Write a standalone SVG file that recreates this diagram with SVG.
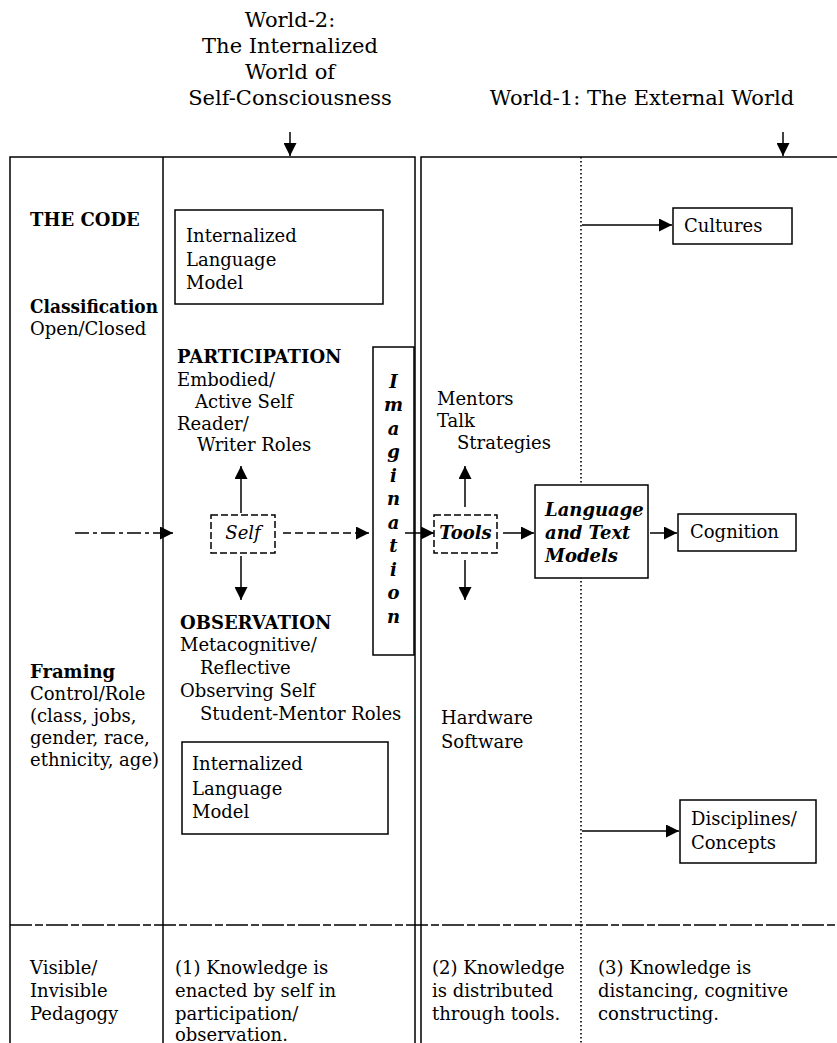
<svg xmlns="http://www.w3.org/2000/svg" width="837" height="1043" viewBox="0 0 837 1043">
<style>
.t{font-family:"DejaVu Serif","Liberation Serif",serif;font-size:18px;fill:#000}
.h{font-size:21px;text-anchor:middle}
.b{font-weight:bold}
.i{font-style:italic}
.m{text-anchor:middle}
.box{fill:#fff;stroke:#000;stroke-width:1.5}
.dbox{fill:#fff;stroke:#000;stroke-width:1.5;stroke-dasharray:7 3}
.ln{stroke:#000;stroke-width:1.5;fill:none}
.dot{stroke:#000;stroke-width:1.6;fill:none;stroke-dasharray:1.5 2.5}
.arr{stroke:#000;stroke-width:1.5;fill:none;marker-end:url(#ah)}
</style>
<defs>
<marker id="ah" viewBox="0 0 10 10" refX="10" refY="5" markerWidth="14" markerHeight="13" markerUnits="userSpaceOnUse" orient="auto"><path d="M0,0 L10,5 L0,10 z" fill="#000"/></marker>
</defs>
<rect width="837" height="1043" fill="#fff"/>

<g id="headers">
<text class="t h" x="290" y="27">World-2:</text>
<text class="t h" x="290" y="53">The Internalized</text>
<text class="t h" x="290" y="79">World of</text>
<text class="t h" x="290" y="105">Self-Consciousness</text>
<text class="t h" x="642" y="105">World-1: The External World</text>
</g>

<g id="frame">
<path class="ln" d="M10,1043 V157 H415 V1043"/>
<line class="ln" x1="163" y1="157" x2="163" y2="1043"/>
<path class="ln" d="M421,1043 V157 H837"/>
<line class="dot" x1="581" y1="157" x2="581" y2="1043"/>
<line class="ln" x1="10" y1="925" x2="837" y2="925" stroke-dasharray="22 3 8 3"/>
</g>

<g id="code-column">
<text class="t b" x="30" y="226">THE CODE</text>
<text class="t b" x="30" y="313" textLength="128" lengthAdjust="spacingAndGlyphs">Classification</text>
<text class="t" x="30" y="335">Open/Closed</text>
<text class="t b" x="30" y="678">Framing</text>
<text class="t" x="30" y="700">Control/Role</text>
<text class="t" x="30" y="722">(class, jobs,</text>
<text class="t" x="30" y="744">gender, race,</text>
<text class="t" x="30" y="766">ethnicity, age)</text>
<text class="t" x="30" y="974">Visible/</text>
<text class="t" x="30" y="997">Invisible</text>
<text class="t" x="30" y="1020">Pedagogy</text>
</g>

<g id="language-model-top">
<rect class="box" x="175" y="210" width="208" height="94"/>
<text class="t" x="186" y="242">Internalized</text>
<text class="t" x="186" y="266">Language</text>
<text class="t" x="186" y="289">Model</text>
</g>

<g id="participation">
<text class="t b" x="177" y="363">PARTICIPATION</text>
<text class="t" x="177" y="386">Embodied/</text>
<text class="t" x="195" y="408">Active Self</text>
<text class="t" x="177" y="430">Reader/</text>
<text class="t" x="197" y="451">Writer Roles</text>
</g>

<g id="self">
<rect class="dbox" x="211" y="515" width="64" height="38"/>
<text class="t i m" x="243" y="539">Self</text>
</g>

<g id="observation">
<text class="t b" x="180" y="629">OBSERVATION</text>
<text class="t" x="180" y="651">Metacognitive/</text>
<text class="t" x="200" y="674">Reflective</text>
<text class="t" x="180" y="697">Observing Self</text>
<text class="t" x="200" y="720">Student-Mentor Roles</text>
</g>

<g id="language-model-bottom">
<rect class="box" x="182" y="742" width="206" height="92"/>
<text class="t" x="192" y="770">Internalized</text>
<text class="t" x="192" y="795">Language</text>
<text class="t" x="192" y="818">Model</text>
</g>

<g id="imagination">
<rect class="box" x="373" y="347" width="41" height="308"/>
<g class="t b i m">
<text x="393.5" y="388">I</text>
<text x="393.5" y="411">m</text>
<text x="393.5" y="435">a</text>
<text x="393.5" y="458">g</text>
<text x="393.5" y="482">i</text>
<text x="393.5" y="505">n</text>
<text x="393.5" y="529">a</text>
<text x="393.5" y="552">t</text>
<text x="393.5" y="576">i</text>
<text x="393.5" y="599">o</text>
<text x="393.5" y="623">n</text>
</g>
</g>

<g id="tool-labels">
<text class="t" x="437" y="405">Mentors</text>
<text class="t" x="437" y="427">Talk</text>
<text class="t" x="457" y="449">Strategies</text>
<text class="t" x="441" y="724">Hardware</text>
<text class="t" x="441" y="748">Software</text>
</g>

<g id="tools">
<rect class="dbox" x="434" y="515" width="63" height="38"/>
<text class="t b i m" x="465.5" y="539">Tools</text>
</g>

<g id="language-text-models">
<rect class="box" x="535" y="485" width="113" height="93"/>
<text class="t b i" x="545" y="516">Language</text>
<text class="t b i" x="545" y="539">and Text</text>
<text class="t b i" x="545" y="562">Models</text>
</g>

<g id="cultures">
<rect class="box" x="673" y="208" width="119" height="36"/>
<text class="t" x="684" y="232">Cultures</text>
</g>

<g id="cognition">
<rect class="box" x="678" y="514" width="118" height="37"/>
<text class="t" x="690" y="538">Cognition</text>
</g>

<g id="disciplines">
<rect class="box" x="680" y="800" width="136" height="63"/>
<text class="t" x="691" y="825">Disciplines/</text>
<text class="t" x="691" y="849">Concepts</text>
</g>

<g id="knowledge">
<text class="t" x="175" y="974">(1) Knowledge is</text>
<text class="t" x="175" y="997">enacted by self in</text>
<text class="t" x="175" y="1020">participation/</text>
<text class="t" x="175" y="1041">observation.</text>
<text class="t" x="432" y="974">(2) Knowledge</text>
<text class="t" x="432" y="997">is distributed</text>
<text class="t" x="432" y="1020">through tools.</text>
<text class="t" x="598" y="974">(3) Knowledge is</text>
<text class="t" x="598" y="997">distancing, cognitive</text>
<text class="t" x="598" y="1020">constructing.</text>
</g>

<g id="connectors">
<line class="arr" x1="290" y1="132" x2="290" y2="156"/>
<line class="arr" x1="783" y1="132" x2="783" y2="156"/>
<line class="arr" x1="75" y1="533" x2="173" y2="533" stroke-dasharray="14 4 4 4"/>
<line class="arr" x1="241" y1="513" x2="241" y2="466"/>
<line class="arr" x1="241" y1="556" x2="241" y2="600"/>
<line class="arr" x1="283" y1="533" x2="369" y2="533" stroke-dasharray="8 4"/>
<line class="arr" x1="405" y1="533" x2="434" y2="533"/>
<line class="arr" x1="465" y1="507" x2="465" y2="466"/>
<line class="arr" x1="465" y1="560" x2="465" y2="600"/>
<line class="arr" x1="503" y1="533" x2="534" y2="533"/>
<line class="arr" x1="650" y1="533" x2="677" y2="533"/>
<line class="arr" x1="582" y1="225" x2="672" y2="225"/>
<line class="arr" x1="582" y1="831" x2="679" y2="831"/>
</g>
</svg>
